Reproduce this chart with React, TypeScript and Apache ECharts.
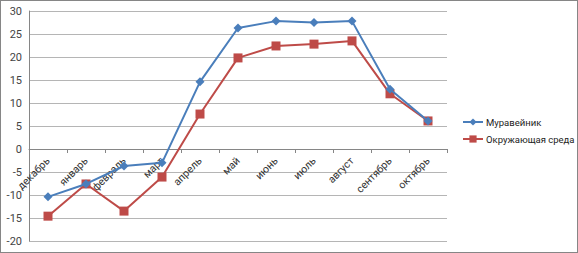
import React, { useEffect, useRef } from "react";
import * as echarts from "echarts";

const categories = ["декабрь", "январь", "февраль", "март", "апрель", "май", "июнь", "июль", "август", "сентябрь", "октябрь"];
const anthill = [-10.4, -7.6, -3.7, -3.0, 14.6, 26.3, 27.8, 27.5, 27.8, 13.0, 6.1];
const environment = [-14.6, -7.6, -13.5, -6.1, 7.6, 19.8, 22.4, 22.8, 23.5, 12.0, 6.1];
const seriesNames = ["Муравейник", "Окружающая среда"];

export default function App() {
  const ref = useRef<HTMLDivElement>(null);
  useEffect(() => {
    if (!ref.current) return;
    const chart = echarts.init(ref.current, null, { renderer: "svg" });
    const font = "Roboto, 'Liberation Sans', sans-serif";
    chart.setOption({
      animation: false,
      textStyle: { fontFamily: font },
      grid: { left: 28, right: 130, top: 10, bottom: 11, containLabel: false, outerBoundsMode: "none" },
      legend: {
        orient: "vertical",
        left: 456,
        top: 111,
        itemGap: 7,
        itemWidth: 20,
        itemHeight: 9,
        textStyle: { fontSize: 9.5, color: "#222", fontFamily: font, padding: [0, 0, 0, -2] },
        data: seriesNames,
      },
      xAxis: {
        type: "category",
        data: categories,
        boundaryGap: true,
        offset: -92,
        axisLine: { onZero: false, lineStyle: { color: "#868686", width: 1 } },
        axisTick: { show: true, length: 4, inside: false, lineStyle: { color: "#868686" } },
        axisLabel: { rotate: 45, fontSize: 10.5, color: "#333", margin: 10, fontFamily: font },
        splitLine: { show: false },
      },
      yAxis: {
        type: "value",
        min: -20,
        max: 30,
        interval: 5,
        axisLine: { show: true, lineStyle: { color: "#868686" } },
        axisTick: { show: false },
        axisLabel: { fontSize: 11, color: "#444", margin: 7, fontFamily: font },
        splitLine: { show: true, lineStyle: { color: "#b5b5b5", width: 1 } },
      },
      series: [
        {
          name: seriesNames[0],
          type: "line",
          data: anthill,
          symbol: "diamond",
          symbolSize: 9,
          itemStyle: { color: "#4a7ebb" },
          lineStyle: { color: "#4a7ebb", width: 2 },
          z: 3,
        },
        {
          name: seriesNames[1],
          type: "line",
          data: environment,
          symbol: "rect",
          symbolSize: 9,
          itemStyle: { color: "#be4b48" },
          lineStyle: { color: "#be4b48", width: 2 },
          z: 2,
        },
      ],
    });
    return () => chart.dispose();
  }, []);
  return (
    <div
      style={{
        position: "absolute",
        left: 0,
        top: 0,
        width: 578,
        height: 253,
        boxSizing: "border-box",
        border: "1px solid #868686",
        background: "#fff",
      }}
    >
      <div ref={ref} style={{ width: 576, height: 251 }} />
    </div>
  );
}
